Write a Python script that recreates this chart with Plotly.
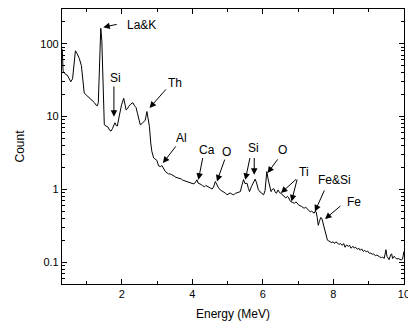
import math
import plotly.graph_objects as go

energy = [0.30, 0.31, 0.33, 0.40, 0.45, 0.50, 0.55, 0.60, 0.64, 0.68, 0.73, 0.79, 0.85, 0.90, 0.93,
          1.00, 1.05, 1.10, 1.16, 1.22, 1.27, 1.30, 1.33, 1.37, 1.40, 1.43, 1.47, 1.50, 1.55, 1.60,
          1.65, 1.69, 1.73, 1.76, 1.80, 1.84, 1.87, 1.93, 1.99, 2.05, 2.09, 2.12, 2.16, 2.19, 2.25,
          2.31, 2.36, 2.40, 2.44, 2.48, 2.52, 2.57, 2.61, 2.66, 2.71, 2.75, 2.78, 2.82, 2.85, 2.90,
          2.95, 2.99, 3.04, 3.09, 3.135, 3.18, 3.23, 3.28, 3.32, 3.38, 3.43, 3.48, 3.53, 3.58, 3.63,
          3.68, 3.72, 3.77, 3.82, 3.87, 3.92, 3.97, 4.02, 4.06, 4.10, 4.13, 4.16, 4.20, 4.25, 4.29,
          4.34, 4.38, 4.42, 4.47, 4.51, 4.56, 4.60, 4.65, 4.69, 4.74, 4.79, 4.84, 4.88, 4.93, 4.98,
          5.03, 5.07, 5.12, 5.17, 5.22, 5.26, 5.31, 5.36, 5.40, 5.45, 5.49, 5.55, 5.59, 5.62, 5.67,
          5.72, 5.78, 5.82, 5.87, 5.92, 5.97, 6.02, 6.06, 6.09, 6.11, 6.15, 6.19, 6.23, 6.27, 6.31,
          6.35, 6.38, 6.43, 6.47, 6.51, 6.55, 6.58, 6.62, 6.65, 6.69, 6.72, 6.76, 6.80, 6.85, 6.89,
          6.93, 6.97, 7.01, 7.06, 7.10, 7.14, 7.17, 7.21, 7.26, 7.30, 7.34, 7.38, 7.42, 7.455, 7.48,
          7.51, 7.54, 7.57, 7.60, 7.64, 7.67, 7.71, 7.74, 7.78, 7.83, 7.87, 7.91, 7.95, 7.99, 8.03,
          8.07, 8.12, 8.16, 8.20, 8.25, 8.29, 8.33, 8.37, 8.42, 8.46, 8.50, 8.55, 8.59, 8.63, 8.68,
          8.72, 8.76, 8.80, 8.85, 8.89, 8.93, 8.97, 9.02, 9.06, 9.10, 9.14, 9.19, 9.23, 9.27, 9.31,
          9.36, 9.40, 9.44, 9.47, 9.49, 9.52, 9.55, 9.58, 9.62, 9.65, 9.68, 9.72, 9.76, 9.80, 9.84,
          9.88, 9.92, 9.96, 9.99, 10.0]
count = [85, 80, 42, 38, 37, 33, 30, 33, 55, 80, 73, 63, 50, 30, 21,
         19.5, 18.5, 17.5, 16.8, 15.5, 14.3, 14.0, 15.5, 60, 163, 110, 25, 7.7, 7.4, 7.2,
         6.5, 6.3, 6.8, 7.4, 8.2, 7.5, 7.4, 10.5, 14.5, 17.8, 15, 12.3, 12.8, 13.7, 14.8,
         15.5, 14, 13.3, 11.1, 9, 7.7, 8.0, 8.5, 8.9, 11.7, 9.5, 7.3, 4.2, 3.3, 2.7,
         2.55, 2.5, 2.1, 2.05, 2.12, 1.95, 1.76, 1.68, 1.63, 1.62, 1.58, 1.52, 1.46, 1.44, 1.41,
         1.39, 1.34, 1.31, 1.30, 1.27, 1.24, 1.22, 1.19, 1.20, 1.26, 1.35, 1.22, 1.20, 1.16, 1.12,
         1.08, 1.13, 1.11, 1.06, 1.04, 1.01, 1.08, 1.28, 1.15, 1.05, 0.98, 0.95, 0.92, 0.89, 0.84,
         0.87, 0.89, 0.86, 0.84, 0.88, 0.89, 0.91, 0.93, 1.12, 1.36, 1.20, 1.21, 1.02, 0.93, 1.08,
         1.20, 1.38, 1.22, 0.99, 0.92, 0.88, 0.84, 0.96, 1.50, 1.75, 1.35, 1.05, 0.93, 1.0, 1.02,
         0.91, 0.88, 0.98, 0.90, 0.88, 0.85, 0.82, 0.79, 0.76, 0.80, 0.78, 0.71, 0.67, 0.66, 0.64,
         0.67, 0.65, 0.61, 0.60, 0.58, 0.56, 0.55, 0.57, 0.54, 0.51, 0.49, 0.50, 0.48, 0.47, 0.50,
         0.49, 0.41, 0.32, 0.36, 0.41, 0.40, 0.34, 0.30, 0.25, 0.20, 0.195, 0.19, 0.185, 0.19, 0.18,
         0.19, 0.183, 0.175, 0.18, 0.17, 0.18, 0.16, 0.172, 0.165, 0.17, 0.155, 0.165, 0.156, 0.16, 0.15,
         0.155, 0.145, 0.152, 0.14, 0.145, 0.138, 0.142, 0.132, 0.133, 0.128, 0.13, 0.122, 0.125, 0.12, 0.118,
         0.115, 0.117, 0.112, 0.13, 0.148, 0.12, 0.112, 0.108, 0.125, 0.13, 0.112, 0.12, 0.115, 0.11, 0.112,
         0.108, 0.107, 0.11, 0.14, 0.14]

# Labels: text, position (energy, count)
label_text = ["La&K", "Si", "Th", "Al", "Ca", "O", "Si", "O", "Ti", "Fe&Si", "Fe"]
label_x = [2.55, 1.81, 3.51, 3.70, 4.41, 4.98, 5.73, 6.56, 7.17, 8.02, 8.59]
label_y = [181, 33.9, 28.9, 5.08, 3.48, 3.30, 3.67, 3.48, 1.75, 1.35, 0.66]

# Arrows: tail (energy, count) -> tip (energy, count)
arrow_tail_x = [1.895, 1.773, 3.285, 3.56, 4.30, 4.93, 5.64, 5.753, 6.45, 6.98, 6.98, 7.76, 8.24]
arrow_tail_y = [186, 27.1, 24.7, 4.07, 2.82, 2.68, 2.82, 2.82, 2.70, 1.43, 1.43, 1.01, 0.612]
arrow_tip_x = [1.47, 1.773, 2.783, 3.163, 4.17, 4.695, 5.50, 5.753, 6.13, 6.51, 6.81, 7.475, 7.76]
arrow_tip_y = [169, 9.9, 13.1, 2.29, 1.35, 1.28, 1.35, 1.58, 1.67, 0.887, 0.681, 0.495, 0.39]

font_family = "Liberation Sans, Arial, sans-serif"

fig = go.Figure()
fig.add_trace(go.Scatter(x=energy, y=count, mode="lines",
                         line=dict(color="black", width=1), showlegend=False))

for t, x, y in zip(label_text, label_x, label_y):
    fig.add_annotation(x=x, y=math.log10(y), xref="x", yref="y", text=t, showarrow=False,
                       font=dict(family=font_family, size=12, color="black"))

for tx, ty, hx, hy in zip(arrow_tail_x, arrow_tail_y, arrow_tip_x, arrow_tip_y):
    fig.add_annotation(x=hx, y=math.log10(hy), xref="x", yref="y",
                       ax=tx, ay=math.log10(ty), axref="x", ayref="y",
                       text="", showarrow=True, arrowhead=2, arrowsize=1.3,
                       arrowwidth=1, arrowcolor="black", standoff=0, startstandoff=0)

axis_common = dict(showline=True, linecolor="black", linewidth=1.2, mirror="ticks",
                   ticks="inside", ticklen=5, tickwidth=1, tickcolor="black",
                   showgrid=False, zeroline=False, ticklabeloverflow="allow",
                   automargin=False,
                   tickfont=dict(family=font_family, size=11, color="black"))

fig.update_xaxes(range=[0.3, 10.002], tick0=0, dtick=2,
                 title=dict(text="Energy (MeV)", font=dict(family=font_family, size=12, color="black"),
                            standoff=10),
                 minor=dict(ticks="inside", dtick=1, tick0=0, ticklen=3, tickcolor="black"),
                 **axis_common)
fig.update_yaxes(type="log", range=[math.log10(0.05), math.log10(300)],
                 tickvals=[0.1, 1, 10, 100], ticktext=["0.1", "1", "10", "100"],
                 title=dict(text="Count", font=dict(family=font_family, size=12, color="black"),
                            standoff=13),
                 minor=dict(ticks="inside", ticklen=3, tickcolor="black",
                            tickvals=[m * 10 ** e for e in range(-2, 3) for m in range(2, 10)]),
                 **axis_common)

fig.update_layout(width=408, height=324, margin=dict(l=62, r=4, t=9, b=40),
                  plot_bgcolor="white", paper_bgcolor="white",
                  font=dict(family=font_family, color="black"))

fig.write_html("out.html", config={"displayModeBar": False},
               post_script="document.body.style.margin='0';document.body.style.padding='0';"
                           "document.body.style.overflow='hidden';")
